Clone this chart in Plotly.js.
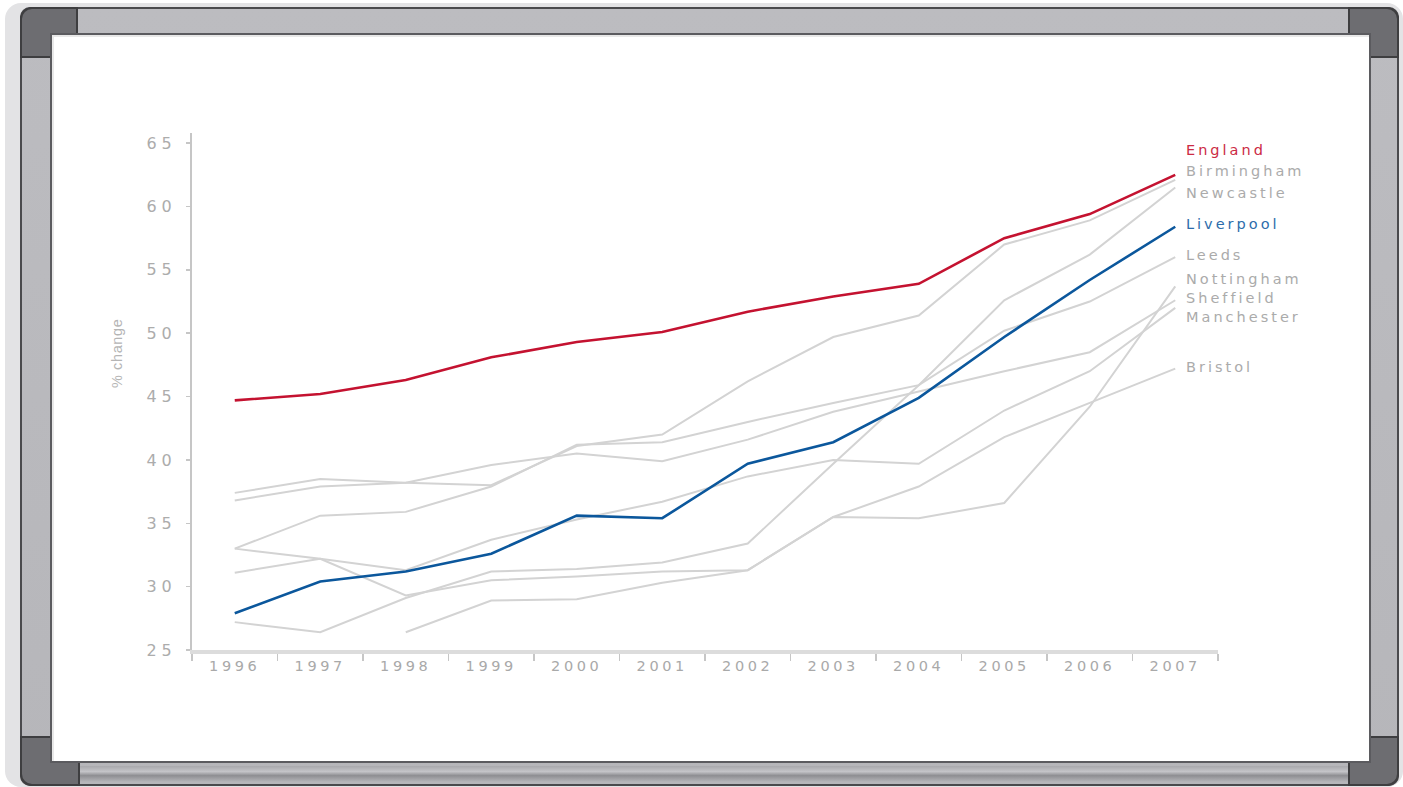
<!DOCTYPE html>
<html>
<head>
<meta charset="utf-8">
<script src="https://cdn.plot.ly/plotly-3.0.1.min.js"></script>
<style>
html,body{margin:0;padding:0;background:#fff;width:1403px;height:787px;overflow:hidden;}
#wrap{position:relative;width:1403px;height:787px;}
.fr{position:absolute;box-sizing:border-box;}
#shadow{left:5px;top:3px;width:1398px;height:784px;background:#e3e3e5;border-radius:16px;}
#band{left:20px;top:7px;width:1379px;height:779px;background:linear-gradient(#bcbcc0,#b6b6ba);border-radius:10px;border:2px solid #4a4a4d;}
.cap{background:#6d6d71;border:2px solid #3e3e40;}
#capTL{left:20px;top:7px;width:58px;height:51px;border-radius:12px 0 0 0;}
#capTR{left:1348px;top:7px;width:51px;height:51px;border-radius:0 12px 0 0;}
#capBL{left:20px;top:736px;width:60px;height:50px;border-radius:0 0 0 12px;}
#capBR{left:1348px;top:736px;width:51px;height:50px;border-radius:0 0 12px 0;}
#tray{left:78px;top:766px;width:1270px;height:16px;background:linear-gradient(#a9a9ad 0%,#c4c4c8 35%,#8e8e92 60%,#b6b6ba 100%);}
#board{left:50px;top:33px;width:1321px;height:730px;background:#fff;border:2px solid #5b5b5f;box-shadow:inset 2px 2px 0 #e8e8e8;}
#chart{position:absolute;left:0;top:0;width:1403px;height:787px;}
.xtick text{letter-spacing:3.6px;}
.ytick text{letter-spacing:5px;}
.annotation-text{letter-spacing:3px;}
</style>
</head>
<body>
<div id="wrap">
  <div class="fr" id="shadow"></div>
  <div class="fr" id="band"></div>
  <div class="fr" id="tray"></div>
  <div class="fr cap" id="capTL"></div>
  <div class="fr cap" id="capTR"></div>
  <div class="fr cap" id="capBL"></div>
  <div class="fr cap" id="capBR"></div>
  <div class="fr" id="board"></div>
  <div id="chart"></div>
</div>
<script>
// ---- data ----
const years = ['1996','1997','1998','1999','2000','2001','2002','2003','2004','2005','2006','2007'];
const england    = [44.7, 45.2, 46.3, 48.1, 49.3, 50.1, 51.7, 52.9, 53.9, 57.5, 59.4, 62.5];
const liverpool  = [27.9, 30.4, 31.2, 32.6, 35.6, 35.4, 39.7, 41.4, 44.9, 49.7, 54.2, 58.4];
const birmingham = [37.4, 38.5, 38.2, 38.0, 41.1, 42.0, 46.2, 49.7, 51.4, 57.0, 58.9, 62.1];
const newcastle  = [27.2, 26.4, 29.1, 31.2, 31.4, 31.9, 33.4, 39.7, 45.9, 52.6, 56.2, 61.5];
const leeds      = [33.0, 35.6, 35.9, 37.9, 41.2, 41.4, 43.0, 44.5, 45.9, 50.2, 52.5, 56.0];
const nottingham = [null, null, 26.4, 28.9, 29.0, 30.3, 31.3, 35.5, 35.4, 36.6, 44.2, 53.7];
const sheffield  = [36.8, 37.9, 38.2, 39.6, 40.5, 39.9, 41.6, 43.8, 45.4, 47.0, 48.5, 52.6];
const manchester = [31.1, 32.2, 31.3, 33.7, 35.3, 36.7, 38.7, 40.0, 39.7, 43.9, 47.0, 52.0];
const bristol    = [33.0, 32.2, 29.3, 30.5, 30.8, 31.2, 31.3, 35.5, 37.9, 41.8, 44.5, 47.2];
const yTickVals  = [25, 30, 35, 40, 45, 50, 55, 60, 65];
const yTitle     = '% change';

// ---- styling ----
const RED = '#c41230', BLUE = '#0b579c', GREY = '#d3d3d3';
const series = [
  {name:'Birmingham', y:birmingham, color:GREY, lab:'#ababab', w:2,   ly:62.8},
  {name:'Newcastle',  y:newcastle,  color:GREY, lab:'#ababab', w:2,   ly:61.1},
  {name:'Leeds',      y:leeds,      color:GREY, lab:'#ababab', w:2,   ly:56.2},
  {name:'Nottingham', y:nottingham, color:GREY, lab:'#ababab', w:2,   ly:54.3},
  {name:'Sheffield',  y:sheffield,  color:GREY, lab:'#ababab', w:2,   ly:52.8},
  {name:'Manchester', y:manchester, color:GREY, lab:'#ababab', w:2,   ly:51.3},
  {name:'Bristol',    y:bristol,    color:GREY, lab:'#ababab', w:2,   ly:47.3},
  {name:'Liverpool',  y:liverpool,  color:BLUE, lab:'#2d6dab', w:2.6, ly:58.6},
  {name:'England',    y:england,    color:RED,  lab:'#cc2b45', w:2.6, ly:64.45}
];

const traces = series.map(s => ({
  type:'scatter', mode:'lines', name:s.name, x:years, y:s.y,
  line:{color:s.color, width:s.w}, connectgaps:false, hoverinfo:'skip'
}));

const annotations = series.map(s => ({
  x: years.length - 1, y: s.ly, xref:'x', yref:'y',
  text: s.name, showarrow:false, xanchor:'left', yanchor:'middle', xshift:9,
  font:{family:'DejaVu Sans', size:14.5, color:s.lab}
}));
// y-axis title placed like the reference (above the plot's vertical centre)
annotations.push({
  x:-0.073, y:48.4, xref:'paper', yref:'y', text:yTitle, textangle:-90,
  showarrow:false, xanchor:'center', yanchor:'middle',
  font:{family:'Liberation Sans', size:14.5, color:'#b5b5b5'}
});

const layout = {
  width:1403, height:787,
  margin:{l:192, r:185, t:133, b:137, pad:0},
  paper_bgcolor:'rgba(0,0,0,0)', plot_bgcolor:'rgba(0,0,0,0)',
  showlegend:false,
  font:{family:'DejaVu Sans', color:'#a9a9a9'},
  xaxis:{
    type:'category', range:[-0.5, years.length - 0.5], fixedrange:true,
    showgrid:false, zeroline:false,
    showline:true, linecolor:'#dcdcdc', linewidth:4,
    ticks:'outside', tickson:'boundaries', ticklen:7, tickwidth:1.5, tickcolor:'#c6c6c6',
    tickfont:{family:'DejaVu Sans', size:14.5, color:'#a9a9a9'}
  },
  yaxis:{
    range:[25, 65.8], tickvals:yTickVals, fixedrange:true,
    showgrid:false, zeroline:false,
    showline:true, linecolor:'#c6c6c6', linewidth:2,
    ticks:'outside', ticklen:4, tickwidth:1.5, tickcolor:'#c6c6c6',
    ticklabelstandoff:6,
    tickfont:{family:'DejaVu Sans', size:16, color:'#acacac'}
  },
  annotations: annotations
};

Plotly.newPlot('chart', traces, layout, {displayModeBar:false, staticPlot:true}).then(() => {
  // tighter spacing for the rotated axis title
  document.querySelectorAll('.annotation-text').forEach(t => {
    if (t.textContent === yTitle) t.style.letterSpacing = '0.6px';
  });
});
</script>
</body>
</html>
